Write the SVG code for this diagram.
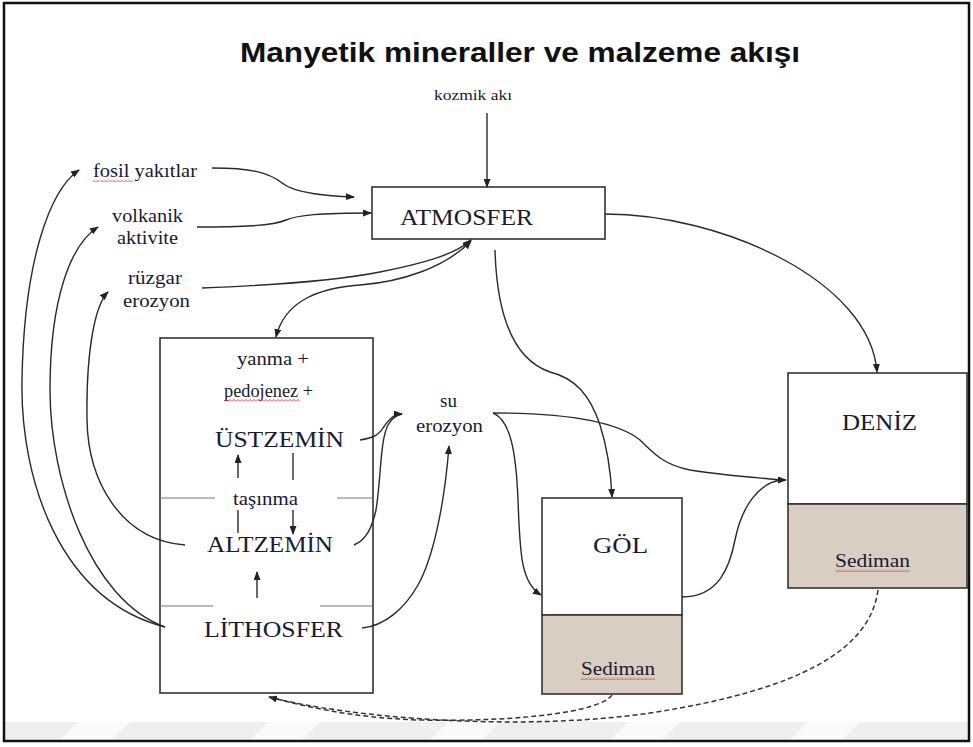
<svg xmlns="http://www.w3.org/2000/svg" width="973" height="747" viewBox="0 0 973 747">
<defs>
<marker id="ah" markerUnits="userSpaceOnUse" markerWidth="9" markerHeight="7" refX="8" refY="3.5" orient="auto-start-reverse">
<path d="M0,0 L9,3.5 L0,7 z" fill="#222"/>
</marker>
<pattern id="wavy" width="4" height="3" patternUnits="userSpaceOnUse">
<path d="M0,2.5 L2,0.5 L4,2.5" fill="none" stroke="#e03030" stroke-width="0.9"/>
</pattern>
<style>
.t{font-family:"Liberation Serif","Times New Roman",serif;fill:#1a1a30;}
.box{fill:#fff;stroke:#333;stroke-width:1.6;}
.sed{fill:#d9cec2;stroke:#333;stroke-width:1.6;}
.sep{stroke:#777;stroke-width:1;fill:none;}
.c{fill:none;stroke:#2a2a2a;stroke-width:1.4;}
.ca{fill:none;stroke:#2a2a2a;stroke-width:1.4;marker-end:url(#ah);}
.d{fill:none;stroke:#333;stroke-width:1.5;stroke-dasharray:5 3;}
</style>
</defs>
<rect x="0" y="0" width="973" height="747" fill="#fff"/>
<g id="watermark">
<rect x="5" y="722" width="963" height="18" fill="#efefef"/>
<path d="M60,740 L78,722 L130,722 L112,740 z M250,740 L268,722 L320,722 L302,740 z M430,740 L448,722 L500,722 L482,740 z M610,740 L628,722 L680,722 L662,740 z M790,740 L808,722 L860,722 L842,740 z" fill="#fafafa"/>
</g>
<rect x="4" y="3" width="965" height="738" fill="none" stroke="#111" stroke-width="2.5"/>
<g id="title">
<text x="240" y="62" font-family="'Liberation Sans',Arial,sans-serif" font-weight="bold" font-size="28" fill="#111" textLength="560" lengthAdjust="spacingAndGlyphs">Manyetik mineraller ve malzeme akışı</text>
</g>
<g id="kozmik">
<text class="t" x="434" y="100" font-size="15" textLength="78" lengthAdjust="spacingAndGlyphs">kozmik akı</text>
</g>
<g id="fosil">
<text class="t" x="93" y="177" font-size="19" textLength="104" lengthAdjust="spacingAndGlyphs">fosil yakıtlar</text>
<rect x="93" y="179" width="40" height="3" fill="url(#wavy)"/>
</g>
<g id="volkanik">
<text class="t" x="112" y="222" font-size="19" textLength="71" lengthAdjust="spacingAndGlyphs">volkanik</text>
<text class="t" x="117" y="244" font-size="19" textLength="61" lengthAdjust="spacingAndGlyphs">aktivite</text>
</g>
<g id="ruzgar">
<text class="t" x="128" y="284" font-size="19" textLength="54" lengthAdjust="spacingAndGlyphs">rüzgar</text>
<text class="t" x="123" y="307" font-size="19" textLength="67" lengthAdjust="spacingAndGlyphs">erozyon</text>
</g>
<g id="atmosfer">
<rect class="box" x="372" y="187" width="233" height="52" stroke-width="2"/>
<text class="t" x="400" y="225" font-size="23" textLength="133" lengthAdjust="spacingAndGlyphs">ATMOSFER</text>
</g>
<g id="toprak">
<rect class="box" x="160" y="338" width="213" height="355"/>
<path class="sep" d="M160,498 H215 M337,498 H373 M160,606 H213 M320,606 H373"/>
<text class="t" x="237" y="365" font-size="18" textLength="72" lengthAdjust="spacingAndGlyphs">yanma +</text>
<text class="t" x="224" y="397" font-size="18" textLength="89" lengthAdjust="spacingAndGlyphs">pedojenez +</text>
<rect x="224" y="399" width="76" height="3" fill="url(#wavy)"/>
<text class="t" x="215" y="447" font-size="24" textLength="129" lengthAdjust="spacingAndGlyphs">ÜSTZEMİN</text>
<text class="t" x="233" y="505" font-size="19" textLength="65" lengthAdjust="spacingAndGlyphs">taşınma</text>
<text class="t" x="207" y="552" font-size="24" textLength="126" lengthAdjust="spacingAndGlyphs">ALTZEMİN</text>
<text class="t" x="204" y="637" font-size="24" textLength="139" lengthAdjust="spacingAndGlyphs">LİTHOSFER</text>
</g>
<g id="su-erozyon">
<text class="t" x="440" y="407" font-size="18" textLength="17" lengthAdjust="spacingAndGlyphs">su</text>
<text class="t" x="416" y="432" font-size="18" textLength="67" lengthAdjust="spacingAndGlyphs">erozyon</text>
</g>
<g id="gol">
<rect class="box" x="542" y="498" width="140" height="117"/>
<rect class="sed" x="542" y="615" width="140" height="79"/>
<text class="t" x="593" y="553" font-size="24" textLength="55" lengthAdjust="spacingAndGlyphs">GÖL</text>
<text class="t" x="581" y="675" font-size="19" textLength="74" lengthAdjust="spacingAndGlyphs">Sediman</text>
<rect x="581" y="677" width="74" height="3" fill="url(#wavy)"/>
</g>
<g id="deniz">
<rect class="box" x="788" y="373" width="179" height="131"/>
<rect class="sed" x="788" y="504" width="179" height="84"/>
<text class="t" x="842" y="430" font-size="24" textLength="75" lengthAdjust="spacingAndGlyphs">DENİZ</text>
<text class="t" x="835" y="567" font-size="19" textLength="75" lengthAdjust="spacingAndGlyphs">Sediman</text>
<rect x="835" y="569" width="75" height="3" fill="url(#wavy)"/>
</g>
<g id="connectors">
<path class="ca" d="M487,113 L487,187"/>
<path class="ca" d="M212,168 C250,168 268,172 282,183 C296,194 330,196 354,197"/>
<path class="ca" d="M197,227 C240,227 272,226 286,220 C298,215 320,213 371,213"/>
<path class="ca" d="M202,288 C280,285 340,280 380,272 C420,264 455,255 471,240"/>
<path class="ca" d="M471,241 C445,268 400,282 360,285 C320,288 285,300 276,337" marker-start="url(#ah)"/>
<path class="ca" d="M495,250 C497,320 515,360 550,372 C575,378 590,395 600,425 C608,450 611,475 612,497"/>
<path class="ca" d="M605,214 C720,214 870,280 877,372"/>
<path class="ca" d="M360,440 C372,438 378,436 383,428 C390,418 394,414 402,414"/>
<path class="c" d="M354,545 C366,540 372,528 376,510 C381,480 380,440 388,425 C392,418 396,415 402,414"/>
<path class="ca" d="M362,628 C385,626 405,608 418,585 C432,560 444,510 449,446"/>
<path class="c" d="M493,413 C560,413 615,420 640,440 C655,455 665,465 690,470 C720,475 760,478 782,480"/>
<path class="ca" d="M782,480 L786,480"/>
<path class="ca" d="M493,413 C510,420 516,450 518,500 C520,550 520,582 541,595"/>
<path class="c" d="M682,597 C720,597 730,565 735,540 C742,505 760,482 782,480"/>
<path class="d" d="M878,590 C870,650 800,690 650,713 C520,732 350,718 269,697" marker-end="url(#ah)"/>
<path class="d" d="M612,695 C600,712 520,722 420,720 C350,718 300,705 269,697"/>
<path class="ca" d="M165,627 C60,600 20,480 22,380 C24,260 50,190 79,170"/>
<path class="ca" d="M165,627 C90,600 50,480 50,390 C50,300 70,245 98,227"/>
<path class="ca" d="M185,545 C120,540 88,480 87,420 C86,350 95,305 108,292"/>
<path class="c" d="M238,533 V510"/>
<path class="ca" d="M238,478 V455"/>
<path class="c" d="M293,453 V480"/>
<path class="ca" d="M293,510 V534"/>
<path class="ca" d="M257,598 V572"/>
</g>
</svg>
